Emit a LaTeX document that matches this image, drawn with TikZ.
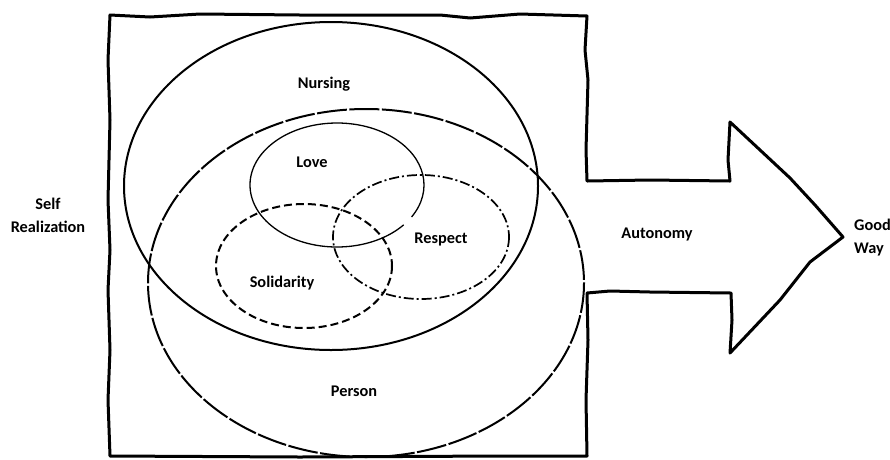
\documentclass[tikz,border=0pt]{standalone}
\usepackage{fontspec}
\setmainfont{Carlito}
\begin{document}
\begin{tikzpicture}[x=1pt,y=-1pt,
  lbl/.style={font=\fontsize{16.3}{19}\selectfont\bfseries, inner sep=0pt, anchor=base},
  outline/.style={line width=3pt, line join=round, line cap=round},
  nursingline/.style={line width=2pt},
  personline/.style={line width=2pt, dash pattern=on 30pt off 2.5pt},
  loveline/.style={line width=1.3pt},
  solline/.style={line width=2pt, dash pattern=on 8pt off 4pt},
  respline/.style={line width=1.7pt, dash pattern=on 10pt off 3pt on 2pt off 3pt}]
\useasboundingbox (0,0) rectangle (890,459);

% outline: square with arrow
\draw[outline] (110,15) -- (150,17) -- (200,14) -- (300,15) -- (440,15) -- (470,18) -- (520,14) -- (587,16)
  -- (585,50) -- (588,80) -- (586,150) -- (587,181)
  -- (650,180) -- (730,181) -- (728,160) -- (730,122)
  -- (760,150) -- (790,178) -- (815,205) -- (843,237)
  -- (810,262) -- (780,300) -- (730,353)
  -- (732,320) -- (731,293)
  -- (650,292) -- (610,291) -- (587,293)
  -- (588,340) -- (586,400) -- (587,456)
  -- (500,456) -- (300,457) -- (110,456)
  -- (108,400) -- (110,350) -- (108,290) -- (110,250) -- (108,200) -- (110,120) -- (108,60) -- cycle;

% ellipses
\draw[nursingline] (331,186) ellipse [x radius=207, y radius=164];
\draw[personline] (366,283) ellipse [x radius=218, y radius=174];
\draw[loveline] (337,185) ++(40:87 and 62) arc[start angle=40, end angle=391, x radius=87, y radius=62];
\draw[solline] (304,266) ellipse [x radius=88, y radius=62];
\draw[respline] (421,237) ellipse [x radius=88, y radius=62];

% labels
\node[lbl] (nursing) at (324,88) {Nursing};
\node[lbl] (love) at (312,167) {Love};
\node[lbl] (respect) at (441,243) {Respect};
\node[lbl] (solidarity) at (282,287) {Solidarity};
\node[lbl] (person) at (354,396) {Person};
\node[lbl] (autonomy) at (657,238) {Autonomy};
\node[lbl] (self) at (48,209) {Self};
\node[lbl] (realization) at (48,232) {Realization};
\node[lbl, anchor=base west] (good) at (854,230) {Good};
\node[lbl, anchor=base west] (way) at (854,253) {Way};
\end{tikzpicture}
\end{document}
